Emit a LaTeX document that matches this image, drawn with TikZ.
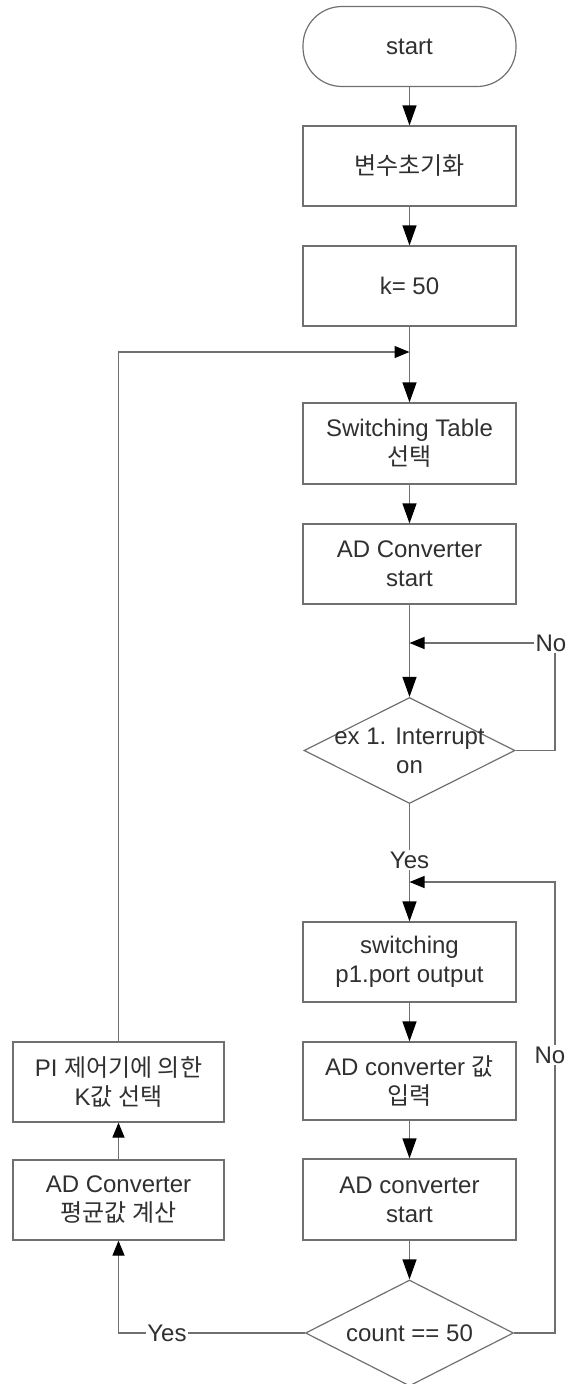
\documentclass[tikz,border=0pt]{standalone}
\usepackage{fontspec}
\setmainfont{Liberation Sans}
\newfontfamily\kr{Noto Sans CJK KR}
\usetikzlibrary{arrows.meta,shapes.geometric}
\definecolor{linegray}{HTML}{707070}
\definecolor{textgray}{HTML}{303030}
\begin{document}
\begin{tikzpicture}[x=1pt,y=-1pt,
  font=\fontsize{24}{29}\selectfont, text=textgray,
  stepbox/.style={draw=linegray, line width=1.2pt, rectangle, minimum width=213pt, minimum height=80pt, inner sep=2pt, align=center},
  termbox/.style={stepbox, rounded corners=39pt},
  decbox/.style={draw=linegray, line width=1.2pt, diamond, minimum width=211pt, minimum height=106pt, inner sep=0pt},
  lbl/.style={inner sep=1.5pt, fill=white},
  conn/.style={draw=linegray, line width=1.2pt},
  darr/.style={conn, -{Triangle[width=14pt,length=20pt,fill=black,color=black]}},
  sarr/.style={conn, -{Triangle[width=12pt,length=15pt,fill=black,color=black]}}
]
\useasboundingbox (0,0) rectangle (571,1384);

\node[termbox] (start) at (409.5,46.5) {start};
\node[stepbox] (b1) at (409.5,166) {{\kr 변수초기화}};
\node[stepbox] (b2) at (409.5,286) {k= 50};
\node[stepbox, minimum height=81pt] (b3) at (409.5,443.5) {Switching Table\\{\kr 선택}};
\node[stepbox] (b4) at (409.5,564) {AD Converter\\start};
\node[decbox, label={[align=center, text=textgray, inner sep=0pt]center:ex 1. Interrupt\\on}] (d1) at (409.5,750.5) {};
\node[stepbox] (b5) at (409.5,962) {switching\\p1.port output};
\node[stepbox, minimum height=78pt] (b6) at (409.5,1081) {AD converter {\kr 값}\\{\kr 입력}};
\node[stepbox, minimum height=81pt] (b7) at (409.5,1199.5) {AD converter\\start};
\node[decbox, minimum width=208pt, label={[text=textgray, inner sep=0pt]center:count == 50}] (d2) at (409.5,1333) {};

\node[stepbox, minimum width=211pt] (p1) at (118.5,1082) {PI {\kr 제어기에 의한}\\K{\kr 값 선택}};
\node[stepbox, minimum width=211pt] (p2) at (118.5,1200) {AD Converter\\{\kr 평균값 계산}};

\node[lbl] (no1) at (551,643) {No};
\node[lbl] (yes1) at (409.5,860) {Yes};
\node[lbl] (no2) at (550,1055) {No};
\node[lbl] (yes2) at (167,1333) {Yes};

\coordinate (m1) at (409.5,352);
\coordinate (m2) at (409.5,643);
\coordinate (m3) at (409.5,882);

\draw[darr] (start) -- (b1);
\draw[darr] (b1) -- (b2);
\draw[darr] (b2) -- (b3);
\draw[sarr] (p1.north) |- (m1);
\draw[darr] (b3) -- (b4);
\draw[darr] (b4) -- (d1);
\draw[conn] (d1.east) -| (no1.south -| 555,0);
\draw[sarr] (no1.west) -- (m2);
\draw[conn] (d1.south) -- (yes1.north);
\draw[darr] (yes1.south) -- (b5);
\draw[conn] (d2.east) -| (no2.south -| 555,0);
\draw[sarr] (no2.north -| 555,0) |- (m3);
\draw[darr] (b5) -- (b6);
\draw[darr] (b6) -- (b7);
\draw[darr] (b7) -- (d2);
\draw[conn] (d2.west) -- (yes2.east);
\draw[sarr] (yes2.west) -| (p2.south);
\draw[sarr] (p2.north) -- (p1.south);
\end{tikzpicture}
\end{document}
